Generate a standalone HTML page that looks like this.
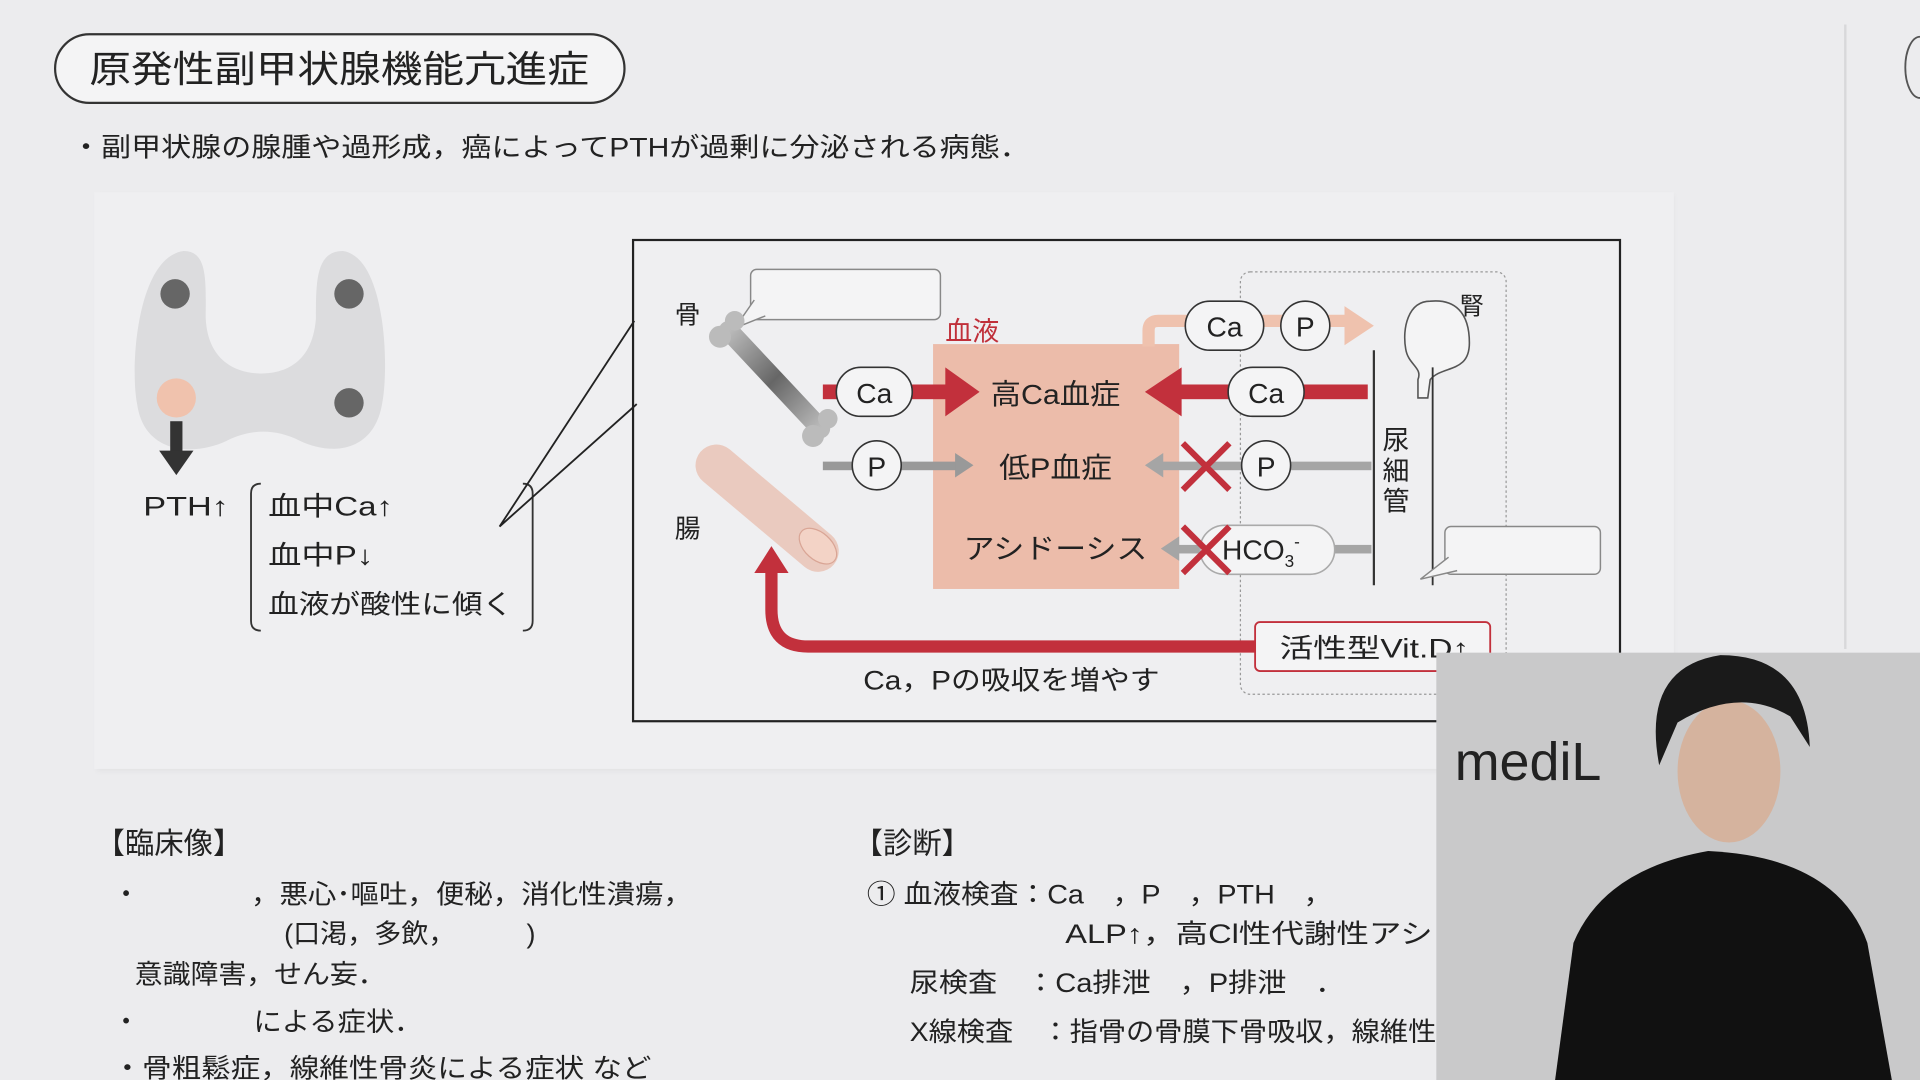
<!DOCTYPE html>
<html><head><meta charset="utf-8"><style>
html,body{margin:0;padding:0;background:#ececee;overflow:hidden}
svg{display:block}
text{font-family:"Liberation Sans","Noto Sans CJK JP",sans-serif;fill:#222}
</style></head><body>
<svg width="1920" height="1080" viewBox="0 0 1568 882" xmlns="http://www.w3.org/2000/svg">
<defs>
<linearGradient id="bone" x1="0" y1="0" x2="1" y2="1"><stop offset="0" stop-color="#bbb"/><stop offset=".5" stop-color="#666"/><stop offset="1" stop-color="#bbb"/></linearGradient>
<filter id="sh"><feGaussianBlur stdDeviation="2"/></filter>
</defs>
<rect width="1568" height="882" fill="#ececee"/>
<line x1="1507" y1="20" x2="1507" y2="530" stroke="#d8d8da" stroke-width="2"/>
<path d="M1568 30 a12 25 0 0 0 0 50" fill="none" stroke="#555" stroke-width="1.5"/>
<!-- title -->
<rect x="45" y="28" width="465" height="56" rx="28" fill="#f4f4f5" stroke="#333" stroke-width="1.8"/>
<text x="73" y="67" font-size="30" textLength="408" lengthAdjust="spacingAndGlyphs">原発性副甲状腺機能亢進症</text>
<text x="58" y="128" font-size="22" textLength="783" lengthAdjust="spacingAndGlyphs">・副甲状腺の腺腫や過形成，癌によってPTHが過剰に分泌される病態．</text>
<!-- panel -->
<rect x="79" y="159" width="1288" height="471" fill="#e3e3e5" filter="url(#sh)"/>
<rect x="77" y="157" width="1290" height="471" fill="#efeff1"/>
<!-- thyroid -->
<path d="M150 205 C170 205 168 230 168 260 C170 300 200 305 213 305 C228 305 255 300 258 260 C258 230 258 205 280 205 C315 210 318 300 312 330 C305 370 270 372 245 360 C225 350 205 350 185 360 C160 372 118 372 112 330 C106 300 112 210 150 205Z" fill="#dcdcde"/>
<circle cx="143" cy="240" r="12" fill="#666"/>
<circle cx="285" cy="240" r="12" fill="#666"/>
<circle cx="285" cy="329" r="12" fill="#666"/>
<circle cx="144" cy="325" r="16" fill="#f0c2ad"/>
<rect x="139" y="344" width="10" height="26" fill="#333"/>
<path d="M130 368 L158 368 L144 388Z" fill="#333"/>
<text x="117" y="421" font-size="22" textLength="70" lengthAdjust="spacingAndGlyphs">PTH↑</text>
<path d="M213 395 Q205 395 205 403 L205 507 Q205 515 213 515" fill="none" stroke="#333" stroke-width="1.5"/>
<path d="M427 395 Q435 395 435 403 L435 507 Q435 515 427 515" fill="none" stroke="#333" stroke-width="1.5"/>
<text x="219" y="421" font-size="22" textLength="102" lengthAdjust="spacingAndGlyphs">血中Ca↑</text>
<text x="219" y="461" font-size="22" textLength="86" lengthAdjust="spacingAndGlyphs">血中P↓</text>
<text x="219" y="501" font-size="22" textLength="200" lengthAdjust="spacingAndGlyphs">血液が酸性に傾く</text>
<!-- callout -->
<polyline points="518,262 408,430 520,330" fill="none" stroke="#222" stroke-width="1.5"/>
<rect x="517" y="196" width="806" height="393" fill="none" stroke="#222" stroke-width="1.8"/>
<rect x="1013" y="222" width="217" height="345" rx="8" fill="none" stroke="#999" stroke-width="1" stroke-dasharray="2,2"/>
<!-- blood box -->
<rect x="762" y="281" width="201" height="200" fill="#ecbcaa"/>
<text x="772" y="278" font-size="22" style="fill:#c0303a">血液</text>
<!-- top salmon arrow -->
<path d="M938 283 L938 270 Q938 262 946 262 L1100 262" fill="none" stroke="#efc2ae" stroke-width="10"/>
<path d="M1098 250 L1122 266 L1098 282Z" fill="#efc2ae"/>
<rect x="968" y="246" width="64" height="40" rx="20" fill="#f4f4f5" stroke="#333" stroke-width="1.3"/>
<text x="1000" y="275" font-size="23" text-anchor="middle">Ca</text>
<circle cx="1066" cy="266" r="20" fill="#f4f4f5" stroke="#333" stroke-width="1.3"/>
<text x="1066" y="275" font-size="23" text-anchor="middle">P</text>
<!-- Ca arrows -->
<rect x="672" y="314" width="108" height="12" fill="#c2303c"/>
<path d="M772 300 L800 320 L772 340Z" fill="#c2303c"/>
<rect x="683" y="300" width="62" height="40" rx="20" fill="#f4f4f5" stroke="#333" stroke-width="1.3"/>
<text x="714" y="329" font-size="23" text-anchor="middle">Ca</text>
<text x="862" y="330" font-size="23" text-anchor="middle" textLength="106" lengthAdjust="spacingAndGlyphs">高Ca血症</text>
<rect x="960" y="314" width="157" height="12" fill="#c2303c"/>
<path d="M965 300 L935 320 L965 340Z" fill="#c2303c"/>
<rect x="1003" y="300" width="62" height="40" rx="20" fill="#f4f4f5" stroke="#333" stroke-width="1.3"/>
<text x="1034" y="329" font-size="23" text-anchor="middle">Ca</text>
<!-- P arrows -->
<rect x="672" y="377" width="110" height="7" fill="#999"/>
<path d="M780 370 L795 380 L780 390Z" fill="#999"/>
<circle cx="716" cy="380" r="20" fill="#f4f4f5" stroke="#333" stroke-width="1.3"/>
<text x="716" y="389" font-size="23" text-anchor="middle">P</text>
<text x="862" y="390" font-size="23" text-anchor="middle" textLength="92" lengthAdjust="spacingAndGlyphs">低P血症</text>
<rect x="948" y="377" width="172" height="7" fill="#a5a5a5"/>
<path d="M950 370 L935 380 L950 390Z" fill="#a5a5a5"/>
<circle cx="1034" cy="380" r="20" fill="#f4f4f5" stroke="#333" stroke-width="1.3"/>
<text x="1034" y="389" font-size="23" text-anchor="middle">P</text>
<path d="M966 362 L1004 400 M1004 362 L966 400" stroke="#c2303c" stroke-width="5"/>
<!-- HCO3 -->
<text x="862" y="456" font-size="23" text-anchor="middle" textLength="150" lengthAdjust="spacingAndGlyphs">アシドーシス</text>
<rect x="960" y="445" width="160" height="7" fill="#a5a5a5"/>
<path d="M963 438 L948 448 L963 458Z" fill="#a5a5a5"/>
<rect x="980" y="429" width="110" height="40" rx="20" fill="#f4f4f5" stroke="#aaa" stroke-width="1.3"/>
<text x="998" y="457" font-size="23">HCO<tspan font-size="14" dy="6">3</tspan><tspan font-size="14" dy="-16">-</tspan></text>
<path d="M966 430 L1004 468 M1004 430 L966 468" stroke="#c2303c" stroke-width="5"/>
<!-- kidney -->
<path d="M1168 246 C1150 246 1145 268 1148 285 C1150 298 1162 300 1158 310 L1158 325 L1166 325 L1168 310 C1178 298 1200 305 1200 280 C1200 255 1188 244 1168 246Z" fill="#f4f4f5" stroke="#555" stroke-width="1.3"/>
<text x="1192" y="257" font-size="20">腎</text>
<line x1="1122" y1="286" x2="1122" y2="478" stroke="#333" stroke-width="1.8"/>
<line x1="1170" y1="300" x2="1170" y2="478" stroke="#333" stroke-width="1.5"/>
<text x="1140" y="367" font-size="22" text-anchor="middle">尿</text>
<text x="1140" y="392" font-size="22" text-anchor="middle">細</text>
<text x="1140" y="417" font-size="22" text-anchor="middle">管</text>
<!-- bubbles -->
<rect x="613" y="220" width="155" height="41" rx="5" fill="#f4f4f5" stroke="#888" stroke-width="1.2"/>
<path d="M616 245 L600 268 L625 258" fill="#f4f4f5" stroke="#888" stroke-width="1.2"/>
<rect x="1180" y="430" width="127" height="39" rx="5" fill="#f4f4f5" stroke="#888" stroke-width="1.2"/>
<path d="M1183 455 L1160 473 L1190 466" fill="#f4f4f5" stroke="#888" stroke-width="1.2"/>
<!-- bone -->
<path d="M595 270 L670 350" stroke="url(#bone)" stroke-width="16" stroke-linecap="round"/>
<circle cx="588" cy="275" r="9" fill="#bbb"/><circle cx="600" cy="262" r="8" fill="#bbb"/>
<circle cx="664" cy="356" r="9" fill="#bbb"/><circle cx="676" cy="342" r="8" fill="#bbb"/>
<text x="551" y="264" font-size="21">骨</text>
<!-- intestine -->
<path d="M585 380 L668 450" stroke="#eac2b3" stroke-width="34" stroke-linecap="round" opacity=".8"/>
<ellipse cx="668" cy="446" rx="11" ry="18" transform="rotate(-48 668 446)" fill="#f3d3c6" stroke="#d9a595"/>
<text x="551" y="439" font-size="21">腸</text>
<!-- red return arrow -->
<path d="M1025 528 L660 528 Q630 528 630 498 L630 465" fill="none" stroke="#c2303c" stroke-width="10"/>
<path d="M616 468 L630 446 L644 468Z" fill="#c2303c"/>
<rect x="1025" y="508" width="192" height="40" rx="4" fill="#f4f4f5" stroke="#c2303c" stroke-width="1.5"/>
<text x="1045" y="537" font-size="22" textLength="155" lengthAdjust="spacingAndGlyphs">活性型Vit.D↑</text>
<text x="705" y="563" font-size="22" textLength="242" lengthAdjust="spacingAndGlyphs">Ca，Pの吸収を増やす</text>
<!-- bottom -->
<text x="78" y="697" font-size="24">【臨床像】</text>
<text x="92" y="738" font-size="22">・</text>
<text x="205" y="738" font-size="22" textLength="360" lengthAdjust="spacingAndGlyphs">，悪心･嘔吐，便秘，消化性潰瘍，</text>
<text x="232" y="770" font-size="22" textLength="140" lengthAdjust="spacingAndGlyphs">(口渇，多飲，</text>
<text x="430" y="770" font-size="22">)</text>
<text x="110" y="803" font-size="22" textLength="205" lengthAdjust="spacingAndGlyphs">意識障害，せん妄．</text>
<text x="92" y="842" font-size="22">・</text>
<text x="207" y="842" font-size="22" textLength="138" lengthAdjust="spacingAndGlyphs">による症状．</text>
<text x="92" y="880" font-size="22" textLength="440" lengthAdjust="spacingAndGlyphs">・骨粗鬆症，線維性骨炎による症状 など</text>
<text x="697" y="697" font-size="24">【診断】</text>
<text x="708" y="738" font-size="22" textLength="380" lengthAdjust="spacingAndGlyphs">① 血液検査：Ca　，P　，PTH　，</text>
<text x="870" y="770" font-size="22" textLength="300" lengthAdjust="spacingAndGlyphs">ALP↑，高Cl性代謝性アシ</text>
<text x="743" y="810" font-size="22" textLength="355" lengthAdjust="spacingAndGlyphs">尿検査　：Ca排泄　，P排泄　．</text>
<text x="743" y="850" font-size="22" textLength="430" lengthAdjust="spacingAndGlyphs">X線検査　：指骨の骨膜下骨吸収，線維性</text>
<!-- webcam -->
<rect x="1173" y="533" width="395" height="349" fill="#c9c9ca"/>
<text x="1188" y="637" font-size="44" fill="#222">mediL</text>
<path d="M1270 882 L1285 770 Q1310 710 1395 695 Q1500 700 1525 770 L1545 882Z" fill="#111"/>
<ellipse cx="1412" cy="630" rx="42" ry="58" fill="#d5b39e"/>
<path d="M1355 625 Q1340 545 1405 535 Q1475 535 1478 610 L1462 585 Q1420 560 1370 590Z" fill="#1a1a1a"/>
</svg>
</body></html>
